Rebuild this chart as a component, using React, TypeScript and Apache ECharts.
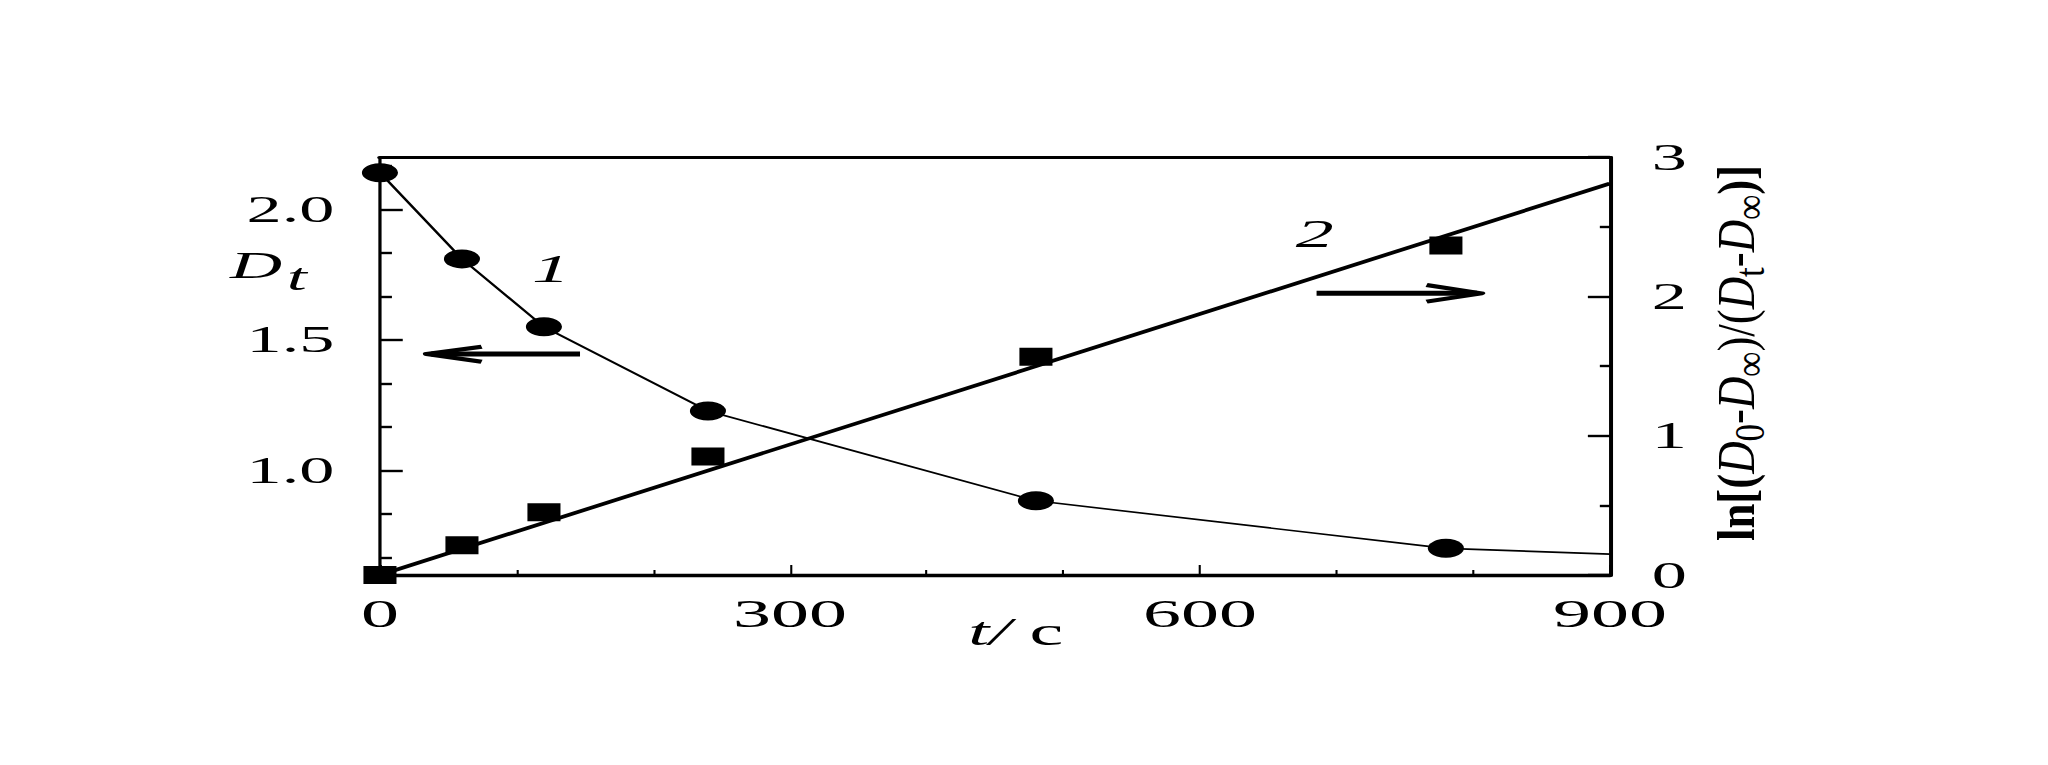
import React, { useEffect, useRef } from "react";
import * as echarts from "echarts";

// ---- data ----
const xTickLabels = ["0", "300", "600", "900"];
const leftTickLabels = ["1.0", "1.5", "2.0"];
const rightTickLabels = ["0", "1", "2", "3"];

const curve1T = [0, 60, 120, 240, 480, 780];
const curve1D = [2.14, 1.81, 1.55, 1.228, 0.884, 0.702];
const curve1EndT = 900;
const curve1EndD = 0.68;

const curve2T = [0, 60, 120, 240, 480, 780];
const curve2Y = [0.0, 0.213, 0.45, 0.85, 1.567, 2.364];
const fit2T = [0, 900];
const fit2Y = [0.0, 2.81];

// ---- layout ----
const W = 1078;
const H = 765;
const S = 2048 / W;
const FONT = "'Liberation Serif', 'Times New Roman', serif";

const LEFT_MIN = 0.6;
const LEFT_MAX = 2.2;

function buildOption() {
  const line1 = curve1T.map((t, i) => [t, curve1D[i]]);
  line1.push([curve1EndT, curve1EndD]);
  const pts1 = curve1T.map((t, i) => [t, curve1D[i]]);
  const pts2 = curve2T.map((t, i) => [t, curve2Y[i]]);
  const fit2 = fit2T.map((t, i) => [t, fit2Y[i]]);

  const leftMajor = leftTickLabels.map((s) => parseFloat(s));
  const leftMinor: number[] = [];
  for (let k = Math.ceil(LEFT_MIN * 6 - 1e-9); k <= Math.floor(LEFT_MAX * 6 + 1e-9); k++) {
    if (k % 3 !== 0) leftMinor.push(k / 6);
  }

  return {
    animation: false,
    backgroundColor: "#ffffff",
    grid: { left: 200, right: 230.6, top: 157, bottom: 190, containLabel: false },
    xAxis: [
      {
        type: "value",
        min: 0,
        max: 900,
        interval: 300,
        position: "bottom",
        axisLine: { show: true, onZero: false, lineStyle: { color: "#000", width: 3.3 } },
        axisTick: { show: true, inside: true, length: 10, lineStyle: { color: "#000", width: 1.1 } },
        minorTick: { show: true, splitNumber: 3, length: 5, lineStyle: { color: "#000", width: 1.1 } },
        splitLine: { show: false },
        minorSplitLine: { show: false },
        axisLabel: {
          color: "#000",
          fontFamily: FONT,
          fontSize: 40,
          margin: 18,
          formatter: (v: number) => (xTickLabels.includes(String(v)) ? String(v) : ""),
        },
        name: "{i|t/} {n|c}",
        nameLocation: "middle",
        nameGap: 36,
        nameMoveOverlap: false,
        nameTextStyle: {
          color: "#000",
          fontFamily: FONT,
          fontSize: 40,
          padding: [0, 0, 0, 22],
          rich: {
            i: { fontFamily: FONT, fontSize: 40, fontStyle: "italic", color: "#000" },
            n: { fontFamily: FONT, fontSize: 40, color: "#000" },
          },
        },
      },
      {
        type: "value",
        min: 0,
        max: 900,
        position: "top",
        axisLine: { show: true, onZero: false, lineStyle: { color: "#000", width: 3 } },
        axisTick: { show: false },
        axisLabel: { show: false },
        splitLine: { show: false },
      },
    ],
    yAxis: [
      {
        type: "value",
        min: LEFT_MIN,
        max: LEFT_MAX,
        position: "left",
        axisLine: { show: true, onZero: false, lineStyle: { color: "#000", width: 1.7 } },
        axisTick: {
          show: true,
          inside: true,
          length: 12,
          customValues: leftMajor,
          lineStyle: { color: "#000", width: 2.4 },
        },
        splitLine: { show: false },
        axisLabel: {
          color: "#000",
          fontFamily: FONT,
          fontSize: 37,
          margin: 24,
          customValues: leftMajor,
          formatter: (v: number) => v.toFixed(1),
        },
      },
      {
        type: "value",
        min: LEFT_MIN,
        max: LEFT_MAX,
        position: "left",
        axisLine: { show: false },
        axisTick: {
          show: true,
          inside: true,
          length: 6.3,
          customValues: leftMinor,
          lineStyle: { color: "#000", width: 2.4 },
        },
        splitLine: { show: false },
        axisLabel: { show: false },
      },
      {
        type: "value",
        min: 0,
        max: 3,
        interval: 1,
        position: "right",
        axisLine: { show: true, onZero: false, lineStyle: { color: "#000", width: 2.1 } },
        axisTick: { show: true, inside: true, length: 11.6, lineStyle: { color: "#000", width: 2.4 } },
        minorTick: { show: true, splitNumber: 2, length: 5.3, lineStyle: { color: "#000", width: 2.4 } },
        splitLine: { show: false },
        minorSplitLine: { show: false },
        axisLabel: {
          color: "#000",
          fontFamily: FONT,
          fontSize: 37,
          margin: 22,
          formatter: (v: number) => (rightTickLabels.includes(String(v)) ? String(v) : ""),
        },
      },
    ],
    series: [
      {
        type: "line",
        xAxisIndex: 0,
        yAxisIndex: 0,
        data: line1,
        symbol: "none",
        lineStyle: { color: "#000", width: 1.6 },
        z: 2,
      },
      {
        type: "scatter",
        xAxisIndex: 0,
        yAxisIndex: 0,
        data: pts1,
        symbol: "circle",
        symbolSize: 19,
        itemStyle: { color: "#000", opacity: 1 },
        z: 3,
      },
      {
        type: "line",
        xAxisIndex: 0,
        yAxisIndex: 2,
        data: fit2,
        symbol: "none",
        lineStyle: { color: "#000", width: 3.4 },
        z: 2,
      },
      {
        type: "scatter",
        xAxisIndex: 0,
        yAxisIndex: 2,
        data: pts2,
        symbol: "rect",
        symbolSize: [17.4, 18],
        itemStyle: { color: "#000", opacity: 1 },
        z: 3,
      },
    ],
    graphic: [
      {
        type: "text",
        x: 121,
        y: 265,
        style: { text: "D", fontFamily: FONT, fontSize: 38, fontStyle: "italic", fill: "#000", align: "left", verticalAlign: "middle" },
      },
      {
        type: "text",
        x: 151,
        y: 277,
        style: { text: "t", fontFamily: FONT, fontSize: 38, fontStyle: "italic", fill: "#000", align: "left", verticalAlign: "middle" },
      },
      {
        type: "text",
        x: 290,
        y: 268,
        style: { text: "1", fontFamily: FONT, fontSize: 40, fontStyle: "italic", fill: "#000", align: "center", verticalAlign: "middle" },
      },
      {
        type: "text",
        x: 692,
        y: 233,
        style: { text: "2", fontFamily: FONT, fontSize: 40, fontStyle: "italic", fill: "#000", align: "center", verticalAlign: "middle" },
      },
      {
        type: "line",
        shape: { x1: 227, y1: 354, x2: 305.3, y2: 354 },
        style: { stroke: "#000", lineWidth: 5 },
      },
      {
        type: "polyline",
        shape: { points: [[253.5, 346.7], [224.6, 354], [253.5, 361.7]] },
        style: { stroke: "#000", lineWidth: 4, fill: null, lineJoin: "round" },
      },
      {
        type: "line",
        shape: { x1: 693, y1: 293.3, x2: 777.5, y2: 293.3 },
        style: { stroke: "#000", lineWidth: 5 },
      },
      {
        type: "polyline",
        shape: { points: [[750.9, 285], [779.8, 293.3], [750.9, 301.7]] },
        style: { stroke: "#000", lineWidth: 4, fill: null, lineJoin: "round" },
      },
      {
        type: "text",
        x: 914,
        y: 353,
        rotation: Math.PI / 2,
        scaleX: 1.6,
        style: {
          text: "{b|ln[(}{i|D}{s|0}{n|-}{i|D}{s|∞}{n|)/(}{i|D}{s|t}{n|-}{i|D}{s|∞}{b|)]}",
          fontFamily: FONT,
          fontSize: 28,
          fill: "#000",
          align: "center",
          verticalAlign: "middle",
          rich: {
            b: { fontFamily: FONT, fontSize: 28, fontWeight: "bold", fill: "#000" },
            n: { fontFamily: FONT, fontSize: 28, fill: "#000" },
            i: { fontFamily: FONT, fontSize: 28, fontStyle: "italic", fill: "#000" },
            s: { fontFamily: FONT, fontSize: 22, fill: "#000", padding: [14, 0, 0, 0] },
          },
        },
      },
    ],
  };
}

export default function App() {
  const ref = useRef<HTMLDivElement>(null);
  useEffect(() => {
    if (!ref.current) return;
    const chart = echarts.init(ref.current, null, { renderer: "svg" });
    chart.setOption(buildOption() as any);
    return () => chart.dispose();
  }, []);
  return (
    <div
      style={{
        position: "fixed",
        left: 0,
        top: 0,
        width: 2048,
        height: 765,
        overflow: "hidden",
        background: "#fff",
      }}
    >
      <div
        ref={ref}
        style={{ width: W, height: H, transform: `scaleX(${S})`, transformOrigin: "0 0" }}
      />
    </div>
  );
}
